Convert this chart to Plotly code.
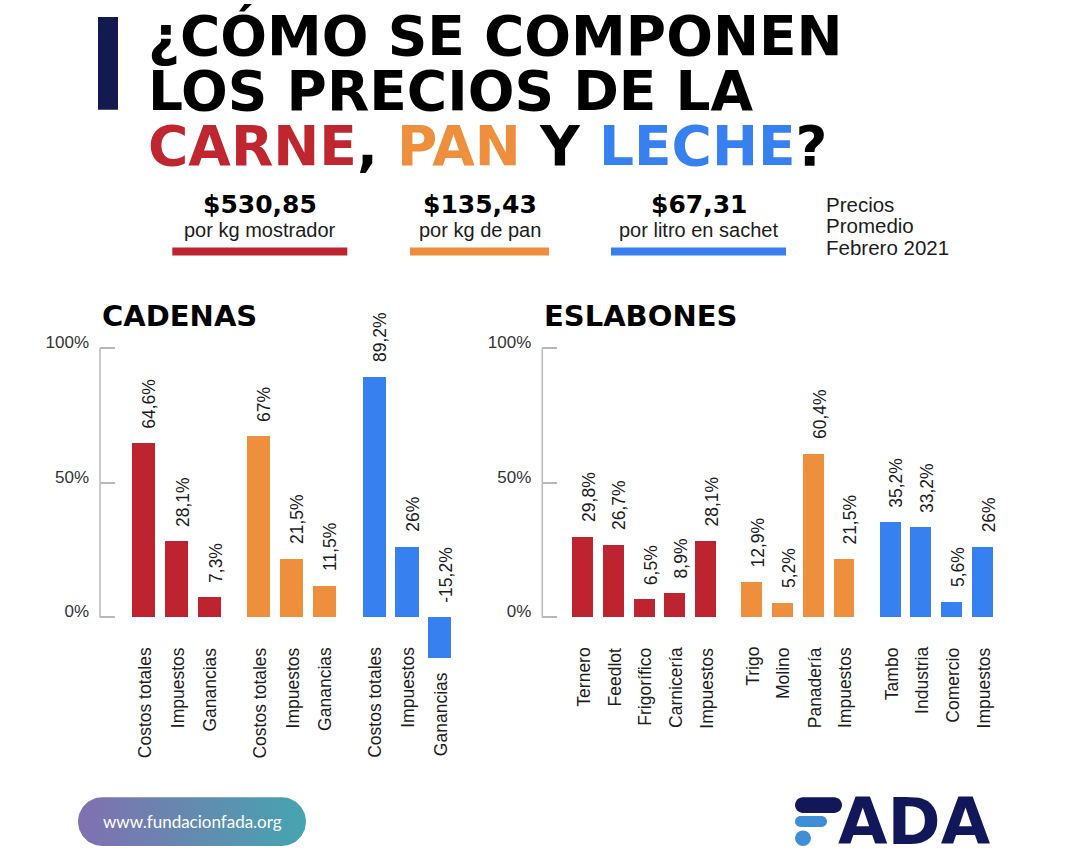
import plotly.graph_objects as go
import numpy as np

# ---------------- data ----------------
cad_categories = ["Costos totales", "Impuestos", "Ganancias"]
cad_carne = [64.6, 28.1, 7.3]
cad_pan = [67, 21.5, 11.5]
cad_leche = [89.2, 26, -15.2]

esl_carne_cats = ["Ternero", "Feedlot", "Frigorífico", "Carnicería", "Impuestos"]
esl_carne = [29.8, 26.7, 6.5, 8.9, 28.1]
esl_pan_cats = ["Trigo", "Molino", "Panadería", "Impuestos"]
esl_pan = [12.9, 5.2, 60.4, 21.5]
esl_leche_cats = ["Tambo", "Industria", "Comercio", "Impuestos"]
esl_leche = [35.2, 33.2, 5.6, 26]

price_values = ["$530,85", "$135,43", "$67,31"]
price_units = ["por kg mostrador", "por kg de pan", "por litro en sachet"]
price_note = ["Precios", "Promedio", "Febrero 2021"]
y_tick_values = [0, 50, 100]
y_tick_labels = ["0%", "50%", "100%"]

# ---------------- style ----------------
RED = "#bd2430"
ORANGE = "#ee8f3e"
BLUE = "#3780f0"
NAVY = "#12175a"
LIGHTBLUE = "#3f8fd8"
AXIS_GRAY = "#b8b8b8"
TEXT = "#1c1c1c"
W, H = 1080, 858
HEAVY = "DejaVu Sans"
SANS = "Liberation Sans, Arial, sans-serif"

# pixel geometry of the two charts
Y0_PX, PX_PER_UNIT = 616.7, 2.7
Y_RANGE = [-20, 105]
y_top = Y0_PX - Y_RANGE[1] * PX_PER_UNIT
y_bot = Y0_PX - Y_RANGE[0] * PX_PER_UNIT
Y_DOMAIN = [1 - y_bot / H, 1 - y_top / H]

L_AX, L_SLOT, L_RANGE = 100.0, 32.94, [-1.32, 10.0]
R_AX, R_SLOT, R_RANGE = 542.3, 30.75, [-1.32, 14.0]
L_DOMAIN = [L_AX / W, (L_AX + (L_RANGE[1] - L_RANGE[0]) * L_SLOT) / W]
R_DOMAIN = [R_AX / W, (R_AX + (R_RANGE[1] - R_RANGE[0]) * R_SLOT) / W]


def group_positions(sizes, gap=1.5):
    out, start = [], 0.0
    for n in sizes:
        out.append([start + i for i in range(n)])
        start += n - 1 + gap
    return out


def pct(v):
    return f"{v:g}".replace(".", ",") + "%"


fig = go.Figure()
annotations = []
shapes = []

charts = [
    ("x", "y", [(cad_categories, cad_carne, RED), (cad_categories, cad_pan, ORANGE),
                (cad_categories, cad_leche, BLUE)], 0.70),
    ("x2", "y2", [(esl_carne_cats, esl_carne, RED), (esl_pan_cats, esl_pan, ORANGE),
                  (esl_leche_cats, esl_leche, BLUE)], 0.68),
]

for xa, ya, groups, bw in charts:
    positions = group_positions([len(g[1]) for g in groups])
    for (cats, vals, color), pos in zip(groups, positions):
        fig.add_trace(go.Bar(x=pos, y=vals, xaxis=xa, yaxis=ya, width=bw,
                             marker=dict(color=color, line=dict(width=0)),
                             showlegend=False, hoverinfo="skip"))
        for p, v, c in zip(pos, vals, cats):
            annotations.append(dict(
                xref=xa, yref=ya, x=p, y=max(v, 0), text=pct(v), textangle=-90,
                xanchor="center", yanchor="bottom", yshift=13, xshift=6,
                showarrow=False, font=dict(family=SANS, size=17.5, color=TEXT)))
            annotations.append(dict(
                xref=xa, yref=ya, x=p, y=min(v, 0), text=c, textangle=-90,
                xanchor="center", yanchor="top", yshift=-28 if v >= 0 else -12,
                xshift=1, showarrow=False,
                font=dict(family=SANS, size=17.5, color=TEXT)))
    # axis line from 0% to 100%
    shapes.append(dict(type="line", xref=f"{xa} domain", yref=ya, x0=0, x1=0,
                       y0=0, y1=100, line=dict(color=AXIS_GRAY, width=1.5)))

# ---------------- decoration in pixel space (x3/y3) ----------------
P = dict(xref="x3", yref="y3")


def text(x, y, s, size, family=SANS, color=TEXT, weight=400, xanchor="center"):
    annotations.append(dict(**P, x=x, y=y, text=s, showarrow=False, xanchor=xanchor,
                            yanchor="middle",
                            font=dict(family=family, size=size, color=color, weight=weight)))


def pill_path(x0, y0, x1, y1):
    r = (y1 - y0) / 2
    k = 0.5523 * r
    return (f"M{x0 + r},{y0} L{x1 - r},{y0} "
            f"C{x1 - r + k},{y0} {x1},{y0 + r - k} {x1},{y0 + r} "
            f"C{x1},{y0 + r + k} {x1 - r + k},{y1} {x1 - r},{y1} "
            f"L{x0 + r},{y1} "
            f"C{x0 + r - k},{y1} {x0},{y0 + r + k} {x0},{y0 + r} "
            f"C{x0},{y0 + r - k} {x0 + r - k},{y0} {x0 + r},{y0} Z")


# title
shapes.append(dict(type="rect", **P, x0=98, x1=118, y0=15, y1=108,
                   fillcolor="#131a4f", line=dict(width=0)))
text(146, 34.5, "¿CÓMO SE COMPONEN", 55, HEAVY, "#000000", 700, "left")
text(146, 89.5, "LOS PRECIOS DE LA", 55, HEAVY, "#000000", 700, "left")
text(146, 144.5,
     f"<span style='color:#c0262f'>CARNE</span>, <span style='color:{ORANGE}'>PAN</span>"
     f" Y <span style='color:{BLUE}'>LECHE</span>?", 55, HEAVY, "#000000", 700, "left")

# prices
price_cx = [259.5, 480, 698.5]
price_bars = [(172.3, 347.3, RED), (410, 549, ORANGE), (611, 786, BLUE)]
for cx, val, unit, (bx0, bx1, col) in zip(price_cx, price_values, price_units, price_bars):
    text(cx, 203, val, 25, HEAVY, "#000000", 700)
    text(cx, 228.5, unit, 20, SANS, TEXT)
    shapes.append(dict(type="rect", **P, x0=bx0, x1=bx1, y0=246, y1=254,
                       fillcolor=col, line=dict(width=0)))
for i, s in enumerate(price_note):
    text(824, 203 + i * 21.5, s, 20.5, SANS, TEXT, 400, "left")

# chart titles
text(100, 315, "CADENAS", 29, HEAVY, "#000000", 700, "left")
text(542, 315, "ESLABONES", 29, HEAVY, "#000000", 700, "left")

# website pill with gradient
r = 24.5
cy = 821.5
t1 = np.linspace(-np.pi / 2, np.pi / 2, 40)
t2 = np.linspace(np.pi / 2, 3 * np.pi / 2, 40)
px_ = np.concatenate([306 - r + r * np.cos(t1), 78 + r + r * np.cos(t2)])
py_ = np.concatenate([cy + r * np.sin(t1), cy + r * np.sin(t2)])
fig.add_trace(go.Scatter(x=px_, y=py_, xaxis="x3", yaxis="y3", mode="lines",
                         fill="toself", line=dict(width=0),
                         fillgradient=dict(type="horizontal",
                                           colorscale=[[0, "#8170b0"], [1, "#46a4b0"]]),
                         showlegend=False, hoverinfo="skip"))
text(192, 821, "www.fundacionfada.org", 17, "Lato", "#ffffff")

# FADA logo
shapes.append(dict(type="path", **P, path=pill_path(795, 797, 842, 813),
                   fillcolor=NAVY, line=dict(width=0)))
shapes.append(dict(type="path", **P, path=pill_path(795, 816, 827, 827),
                   fillcolor=LIGHTBLUE, line=dict(width=0)))
shapes.append(dict(type="circle", **P, x0=795, x1=811, y0=830.5, y1=846,
                   fillcolor=LIGHTBLUE, line=dict(width=0)))
text(914, 822, "ADA", 64, HEAVY, NAVY, 700)

# ---------------- layout ----------------
yax = dict(domain=Y_DOMAIN, range=Y_RANGE, tickvals=y_tick_values, ticktext=y_tick_labels,
           ticks="inside", ticklen=15, tickwidth=1.5, tickcolor=AXIS_GRAY,
           showgrid=False, zeroline=False, showline=False, ticklabelstandoff=10,
           ticklabelshift=-6, tickfont=dict(family=SANS, size=17, color="#333333"))
xax = dict(showticklabels=False, showgrid=False, zeroline=False, showline=False, ticks="")

fig.update_layout(
    width=W, height=H, autosize=False,
    margin=dict(l=0, r=0, t=0, b=0),
    paper_bgcolor="#ffffff", plot_bgcolor="rgba(0,0,0,0)",
    bargap=0,
    xaxis=dict(**xax, domain=L_DOMAIN, range=L_RANGE, anchor="y"),
    yaxis=dict(**yax, anchor="x"),
    xaxis2=dict(**xax, domain=R_DOMAIN, range=R_RANGE, anchor="y2"),
    yaxis2=dict(**yax, anchor="x2"),
    xaxis3=dict(domain=[0, 1], range=[0, W], visible=False, anchor="y3"),
    yaxis3=dict(domain=[0, 1], range=[H, 0], visible=False, anchor="x3"),
    annotations=annotations,
    shapes=shapes,
    showlegend=False,
)

fig.write_html("out.html", config={"displayModeBar": False},
               post_script="document.body.style.margin='0';")
